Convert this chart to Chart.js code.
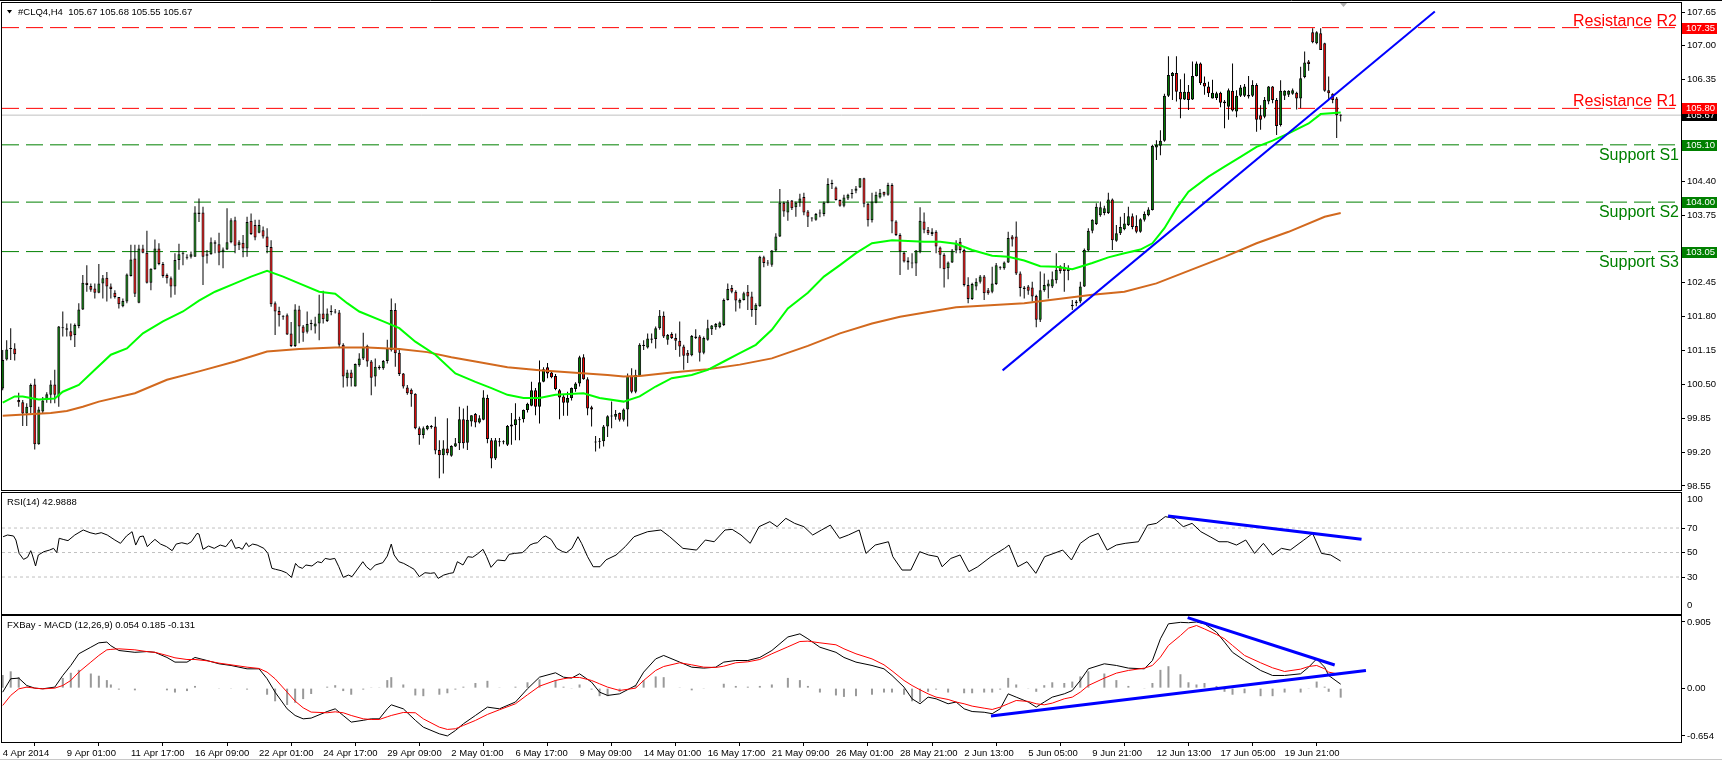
<!DOCTYPE html>
<html>
<head>
<meta charset="utf-8">
<title>#CLQ4,H4</title>
<script src="https://cdn.jsdelivr.net/npm/chart.js@4.4.1/dist/chart.umd.min.js"></script>
<style>
  body { margin: 0; background: #fff; width: 1722px; height: 764px; overflow: hidden; position: relative; }
  canvas { position: absolute; left: 0; }
  #main { top: 0; }
  #rsi { top: 491px; }
  #macd { top: 614px; }
</style>
</head>
<body>
<canvas id="main" width="1722" height="491"></canvas>
<canvas id="rsi" width="1722" height="124"></canvas>
<canvas id="macd" width="1722" height="150"></canvas>
<script>
// #CLQ4 H4 candles, one entry per bar (bar 0 = 4 Apr 2014)
const opens = [
  100.42, 100.98, 101.18, 101.19, 100.20, 100.16, 99.94, 100.06, 100.50, 99.35,
  99.98, 100.20, 100.30, 100.50, 100.27, 101.60, 101.58, 101.52, 101.45, 101.62,
  101.94, 102.45, 102.39, 102.34, 102.26, 102.44, 102.55, 102.38, 102.26, 102.18,
  102.00, 102.09, 102.58, 102.92, 102.07, 103.11, 103.03, 102.45, 102.71, 103.11,
  102.81, 102.60, 102.54, 102.38, 102.89, 103.00, 102.95, 102.95, 102.95, 103.80,
  103.80, 102.97, 103.00, 103.23, 103.19, 103.04, 103.09, 103.23, 103.65, 103.17,
  103.22, 103.11, 103.64, 103.56, 103.41, 103.46, 103.34, 103.14, 102.06, 101.91,
  101.82, 101.83, 101.48, 101.24, 101.94, 101.61, 101.51, 101.66, 101.61, 101.67,
  101.86, 101.72, 101.89, 101.90, 101.88, 101.26, 100.62, 100.73, 100.46, 100.87,
  101.00, 101.24, 100.94, 100.65, 100.84, 100.81, 100.95, 101.16, 101.93, 101.11,
  100.71, 100.44, 100.40, 100.32, 99.66, 99.53, 99.64, 99.70, 99.69, 99.24,
  99.14, 99.27, 99.13, 99.31, 99.37, 99.83, 99.38, 99.79, 99.93, 99.77,
  99.82, 100.24, 99.43, 99.08, 99.41, 99.39, 99.34, 99.69, 99.72, 99.83,
  99.83, 100.01, 100.09, 100.39, 100.07, 100.55, 100.83, 100.73, 100.66, 100.39,
  100.27, 100.15, 100.24, 100.41, 100.52, 101.02, 100.60, 100.06, 99.39, 99.40,
  99.41, 99.69, 99.89, 99.88, 99.95, 99.82, 100.02, 100.66, 100.36, 100.66,
  101.26, 101.21, 101.38, 101.37, 101.58, 101.82, 101.36, 101.47, 101.39, 101.34,
  101.23, 101.11, 101.06, 101.42, 101.42, 101.11, 101.36, 101.56, 101.60, 101.60,
  101.64, 102.12, 102.35, 102.28, 102.07, 102.12, 102.28, 102.19, 101.93, 102.00,
  102.94, 102.84, 102.80, 103.07, 103.34, 103.99, 103.80, 104.03, 103.90, 103.99,
  104.10, 103.82, 103.70, 103.66, 103.78, 103.77, 103.99, 104.35, 104.28, 104.04,
  103.93, 104.07, 104.16, 104.22, 104.28, 104.46, 103.97, 103.65, 103.99, 104.09,
  104.20, 104.14, 104.33, 103.63, 103.37, 103.03, 102.88, 102.84, 102.82, 103.05,
  103.63, 103.47, 103.39, 103.43, 103.13, 102.99, 102.73, 102.84, 103.07, 103.24,
  103.08, 102.41, 102.14, 102.38, 102.47, 102.57, 102.31, 102.28, 102.43, 102.76,
  102.73, 102.84, 103.34, 103.34, 102.63, 102.36, 102.38, 102.36, 102.20, 101.74,
  102.31, 102.38, 102.38, 102.50, 102.77, 102.76, 102.68, 102.03, 102.06, 102.09,
  102.38, 103.07, 103.45, 103.58, 103.75, 103.79, 103.79, 104.05, 103.26, 103.40,
  103.48, 103.56, 103.73, 103.54, 103.43, 103.66, 103.75, 103.85, 105.05, 105.08,
  105.18, 106.04, 106.42, 106.48, 106.12, 105.97, 106.12, 105.97, 106.42, 106.66,
  106.29, 106.22, 105.99, 106.00, 106.10, 105.93, 105.83, 106.14, 105.74, 106.04,
  106.04, 106.06, 106.04, 106.25, 105.67, 105.64, 105.93, 106.22, 105.96, 105.48,
  106.04, 106.06, 106.08, 106.10, 105.99, 106.40, 106.70, 107.26, 107.05, 107.24,
  107.05, 106.15, 106.08, 105.99, 105.67
];
const highs = [
  101.16, 101.35, 101.58, 101.29, 100.34, 100.20, 100.14, 100.52, 100.61, 100.07,
  100.26, 100.35, 100.58, 100.78, 101.62, 101.90, 101.67, 101.67, 101.67, 102.06,
  102.60, 102.79, 102.44, 102.44, 102.81, 102.60, 102.66, 102.44, 102.31, 102.18,
  102.15, 102.63, 103.18, 103.18, 103.18, 103.18, 103.45, 102.73, 103.28, 103.21,
  102.85, 102.63, 102.57, 103.02, 103.20, 103.05, 103.00, 103.05, 103.92, 104.07,
  103.91, 103.08, 103.32, 103.27, 103.41, 103.13, 103.88, 103.69, 103.72, 103.27,
  103.37, 103.72, 103.78, 103.66, 103.66, 103.53, 103.50, 103.27, 102.09, 101.99,
  101.83, 101.86, 101.70, 102.04, 102.01, 101.64, 101.90, 101.74, 101.80, 102.22,
  102.30, 101.96, 102.02, 101.95, 101.93, 101.29, 100.78, 100.78, 100.90, 101.10,
  101.49, 101.26, 100.97, 101.00, 100.87, 100.97, 101.36, 102.15, 102.06, 101.16,
  100.72, 100.49, 100.42, 100.33, 99.69, 99.69, 99.72, 99.72, 99.88, 99.43,
  99.43, 99.85, 99.33, 99.47, 100.07, 100.04, 100.09, 99.91, 99.95, 99.91,
  100.39, 100.30, 99.47, 99.47, 99.47, 99.43, 99.72, 99.95, 100.14, 99.88,
  100.02, 100.15, 100.55, 100.43, 100.96, 100.83, 100.91, 100.75, 100.70, 100.41,
  100.30, 100.36, 100.44, 100.54, 101.05, 101.08, 100.64, 100.09, 99.51, 99.47,
  99.72, 99.91, 100.17, 100.01, 99.96, 100.04, 100.71, 100.81, 100.78, 101.29,
  101.35, 101.48, 101.48, 101.61, 101.93, 101.90, 101.47, 101.50, 101.48, 101.71,
  101.26, 101.16, 101.45, 101.56, 101.45, 101.42, 101.74, 101.64, 101.68, 101.71,
  102.15, 102.44, 102.41, 102.31, 102.15, 102.28, 102.41, 102.28, 102.06, 102.97,
  102.97, 102.89, 103.08, 103.40, 104.25, 104.01, 104.04, 104.04, 104.01, 104.16,
  104.18, 103.85, 103.71, 103.79, 103.86, 104.01, 104.46, 104.43, 104.30, 104.05,
  104.14, 104.16, 104.25, 104.31, 104.46, 104.47, 103.99, 104.18, 104.20, 104.25,
  104.20, 104.37, 104.36, 103.65, 103.40, 103.05, 102.94, 103.02, 103.08, 103.90,
  103.80, 103.52, 103.50, 103.46, 103.15, 103.02, 102.86, 103.10, 103.27, 103.31,
  103.11, 102.56, 102.45, 102.54, 102.60, 102.60, 102.35, 102.76, 102.83, 102.77,
  102.86, 103.43, 103.37, 103.63, 102.67, 102.39, 102.41, 102.47, 102.22, 102.67,
  102.63, 102.51, 102.67, 103.02, 102.79, 102.83, 102.79, 102.12, 102.12, 102.47,
  103.11, 103.50, 103.67, 103.98, 104.01, 103.93, 104.18, 104.07, 103.56, 103.72,
  103.79, 103.91, 103.78, 103.75, 103.69, 103.82, 103.90, 105.10, 105.19, 105.38,
  106.08, 106.80, 106.50, 106.80, 106.36, 106.47, 106.25, 106.70, 106.70, 106.68,
  106.41, 106.31, 106.35, 106.12, 106.12, 105.96, 106.18, 106.66, 106.15, 106.25,
  106.27, 106.42, 106.34, 106.28, 105.86, 106.02, 106.23, 106.23, 106.00, 106.34,
  106.15, 106.15, 106.18, 106.12, 106.60, 106.89, 106.73, 107.34, 107.28, 107.34,
  107.06, 106.41, 106.09, 106.02, 105.68
];
const lows = [
  100.39, 100.96, 100.97, 100.96, 100.07, 99.70, 99.70, 99.94, 99.25, 99.34,
  99.95, 100.15, 100.14, 100.14, 100.07, 101.42, 101.42, 101.35, 101.22, 101.58,
  101.93, 102.28, 102.28, 102.15, 102.25, 102.15, 102.09, 102.15, 102.15, 101.96,
  101.98, 102.06, 102.57, 102.18, 102.06, 103.02, 102.44, 102.31, 102.70, 102.79,
  102.55, 102.44, 102.17, 102.22, 102.70, 102.79, 102.90, 102.92, 102.95, 103.62,
  102.41, 102.82, 102.99, 103.02, 102.79, 102.73, 103.08, 103.21, 103.02, 103.08,
  102.94, 102.95, 103.37, 103.27, 103.40, 103.30, 103.02, 101.99, 101.45, 101.61,
  101.74, 101.45, 101.22, 101.22, 101.29, 101.32, 101.48, 101.54, 101.48, 101.35,
  101.67, 101.70, 101.83, 101.86, 101.22, 100.44, 100.46, 100.46, 100.46, 100.84,
  100.97, 100.84, 100.29, 100.46, 100.78, 100.78, 100.90, 101.13, 100.84, 100.66,
  100.42, 100.30, 100.07, 99.64, 99.34, 99.46, 99.62, 99.65, 99.16, 98.70,
  98.79, 99.14, 99.11, 99.30, 99.24, 99.27, 99.24, 99.69, 99.68, 99.75,
  99.81, 99.37, 98.89, 99.05, 99.31, 99.35, 99.32, 99.34, 99.43, 99.43,
  99.77, 99.96, 100.08, 99.91, 99.75, 100.54, 100.62, 100.62, 100.39, 99.83,
  99.90, 99.90, 100.19, 100.36, 100.46, 100.59, 99.91, 99.69, 99.21, 99.27,
  99.31, 99.49, 99.66, 99.82, 99.79, 99.79, 99.69, 100.33, 100.33, 100.65,
  101.16, 101.19, 101.29, 101.19, 101.55, 101.39, 101.26, 101.37, 101.16, 101.03,
  100.78, 100.91, 101.04, 101.37, 100.94, 101.08, 101.34, 101.45, 101.55, 101.58,
  101.62, 102.11, 102.25, 101.90, 101.96, 102.11, 101.93, 101.80, 101.64, 101.99,
  102.75, 102.78, 102.76, 103.05, 103.33, 103.72, 103.64, 103.85, 103.72, 103.91,
  103.75, 103.52, 103.63, 103.64, 103.71, 103.73, 103.98, 104.25, 104.03, 103.91,
  103.90, 104.04, 104.07, 104.17, 104.27, 103.90, 103.53, 103.61, 103.98, 104.07,
  104.11, 104.12, 103.40, 103.35, 102.60, 102.84, 102.70, 102.73, 102.58, 103.02,
  103.40, 103.37, 103.35, 103.02, 102.73, 102.36, 102.52, 102.83, 103.02, 103.02,
  102.38, 102.06, 102.12, 102.31, 102.44, 102.12, 102.22, 102.25, 102.41, 102.70,
  102.70, 102.83, 103.15, 102.60, 102.19, 102.15, 102.22, 102.09, 101.60, 101.70,
  102.28, 102.15, 102.35, 102.44, 102.63, 102.28, 102.50, 101.93, 102.00, 102.06,
  102.37, 103.05, 103.40, 103.56, 103.72, 103.75, 103.77, 103.08, 103.24, 103.37,
  103.46, 103.54, 103.48, 103.40, 103.41, 103.63, 103.73, 103.84, 104.81, 104.90,
  105.16, 106.02, 105.96, 105.93, 105.61, 105.96, 105.77, 105.96, 106.41, 106.25,
  106.06, 106.02, 105.99, 105.96, 105.82, 105.42, 105.58, 105.74, 105.63, 106.02,
  106.02, 105.99, 106.02, 105.35, 105.39, 105.61, 105.88, 105.90, 105.29, 105.45,
  105.96, 106.02, 106.06, 105.78, 105.80, 106.38, 106.52, 107.05, 107.03, 106.92,
  106.12, 105.96, 105.90, 105.23, 105.55
];
const closes = [
  100.97, 101.17, 101.20, 101.08, 100.16, 99.94, 100.07, 100.49, 99.35, 100.02,
  100.19, 100.31, 100.50, 100.30, 101.61, 101.58, 101.55, 101.42, 101.64, 101.94,
  102.45, 102.41, 102.32, 102.26, 102.44, 102.54, 102.38, 102.33, 102.18, 102.04,
  102.10, 102.61, 102.90, 102.24, 103.11, 103.03, 102.45, 102.72, 103.11, 102.81,
  102.58, 102.54, 102.38, 102.89, 103.00, 103.02, 102.93, 103.00, 103.80, 103.77,
  102.95, 103.00, 103.23, 103.20, 103.03, 103.09, 103.23, 103.65, 103.16, 103.23,
  103.11, 103.62, 103.39, 103.32, 103.56, 103.34, 103.14, 102.04, 101.90, 101.83,
  101.80, 101.46, 101.24, 101.94, 101.61, 101.49, 101.66, 101.68, 101.67, 101.86,
  101.75, 101.86, 101.91, 101.88, 101.26, 100.65, 100.73, 100.62, 100.89, 101.00,
  101.22, 100.94, 100.63, 100.84, 100.81, 100.95, 101.19, 101.93, 101.10, 100.70,
  100.46, 100.33, 100.31, 99.66, 99.53, 99.66, 99.70, 99.68, 99.23, 99.14,
  99.27, 99.18, 99.32, 99.37, 99.83, 99.37, 99.82, 99.91, 99.77, 99.85,
  100.25, 99.45, 99.08, 99.43, 99.39, 99.41, 99.70, 99.73, 99.83, 99.81,
  100.01, 100.13, 100.39, 100.07, 100.54, 100.79, 100.71, 100.64, 100.41, 100.25,
  100.15, 100.24, 100.43, 100.52, 101.02, 100.60, 100.04, 100.02, 99.40, 99.42,
  99.69, 99.89, 99.90, 99.93, 99.82, 100.02, 100.66, 100.36, 100.68, 101.26,
  101.24, 101.38, 101.36, 101.58, 101.82, 101.42, 101.45, 101.39, 101.34, 101.23,
  101.05, 101.05, 101.43, 101.39, 101.11, 101.39, 101.58, 101.63, 101.66, 101.69,
  102.12, 102.33, 102.28, 102.11, 102.12, 102.25, 102.19, 101.93, 102.03, 102.95,
  102.83, 102.82, 103.07, 103.34, 103.99, 103.82, 104.01, 103.88, 103.99, 104.07,
  103.80, 103.72, 103.69, 103.77, 103.80, 103.99, 104.35, 104.36, 104.04, 103.93,
  104.09, 104.14, 104.17, 104.26, 104.46, 103.97, 103.65, 104.01, 104.14, 104.18,
  104.14, 104.33, 103.63, 103.37, 103.05, 102.86, 102.84, 102.82, 103.07, 103.64,
  103.47, 103.40, 103.43, 103.15, 102.99, 102.71, 102.84, 103.07, 103.22, 103.08,
  102.41, 102.14, 102.43, 102.47, 102.57, 102.25, 102.25, 102.44, 102.79, 102.74,
  102.84, 103.31, 103.28, 102.63, 102.35, 102.33, 102.30, 102.19, 101.74, 102.31,
  102.41, 102.44, 102.52, 102.70, 102.68, 102.68, 102.73, 102.00, 102.09, 102.38,
  103.08, 103.45, 103.66, 103.91, 103.90, 103.88, 104.05, 103.27, 103.40, 103.52,
  103.59, 103.73, 103.52, 103.43, 103.67, 103.77, 103.86, 105.08, 105.10, 105.18,
  106.04, 106.44, 106.48, 106.12, 105.97, 106.12, 105.96, 106.42, 106.66, 106.28,
  106.22, 106.09, 106.10, 106.09, 105.91, 105.90, 106.15, 105.76, 106.04, 106.20,
  106.22, 106.03, 106.25, 105.58, 105.58, 105.96, 106.22, 105.96, 105.46, 106.14,
  106.14, 106.14, 106.15, 105.99, 106.38, 106.68, 106.65, 107.07, 107.26, 106.92,
  106.14, 106.09, 105.96, 105.67, 105.67
];

// moving averages (green fast, orange slow), read at these bars
const fastMaX = [0, 3, 5, 9, 13, 15, 19, 23, 27, 31, 35, 40, 45, 49, 53, 58, 62, 66, 70, 74,
  79, 83, 86, 89, 95, 99, 103, 108, 113, 118, 122, 126, 130, 134, 138, 145, 149, 155, 159, 163,
  167, 172, 176, 180, 184, 188, 192, 196, 201, 205, 209, 213, 217, 222, 230, 234, 238, 242, 247, 251,
  255, 259, 263, 267, 272, 276, 280, 284, 287, 290, 293, 296, 301, 305, 309, 313, 317, 321, 326, 329, 334];
const fastMaY = [100.15, 100.27, 100.27, 100.21, 100.23, 100.36, 100.49, 100.78, 101.07, 101.19,
  101.48, 101.71, 101.90, 102.11, 102.28, 102.44, 102.57, 102.68, 102.57, 102.44,
  102.28, 102.24, 102.06, 101.90, 101.71, 101.58, 101.32, 101.07, 100.71, 100.55,
  100.43, 100.30, 100.24, 100.24, 100.30, 100.33, 100.24, 100.17, 100.27, 100.46,
  100.62, 100.68, 100.78, 100.94, 101.10, 101.26, 101.55, 101.96, 102.26, 102.57,
  102.79, 103.02, 103.21, 103.27, 103.24, 103.24, 103.20, 103.08, 102.97, 102.95,
  102.88, 102.77, 102.76, 102.71, 102.83, 102.94, 103.02, 103.09, 103.21, 103.50,
  103.88, 104.20, 104.49, 104.68, 104.87, 105.06, 105.18, 105.32, 105.51, 105.69, 105.72];
const slowMaX = [0, 12, 16, 20, 24, 33, 41, 49, 58, 66, 74, 83, 91, 99, 106, 112, 118, 126, 134, 142,
  151, 155, 159, 167, 176, 184, 192, 201, 209, 217, 224, 238, 255, 272, 280, 288, 296, 305, 313, 321, 330, 334];
const slowMaY = [99.90, 99.95, 99.99, 100.07, 100.17, 100.33, 100.59, 100.75, 100.94, 101.13,
  101.18, 101.21, 101.21, 101.18, 101.12, 101.02, 100.94, 100.83, 100.77, 100.73,
  100.68, 100.65, 100.66, 100.73, 100.79, 100.88, 101.00, 101.24, 101.48, 101.67,
  101.80, 101.98, 102.06, 102.22, 102.28, 102.44, 102.68, 102.95, 103.21, 103.43, 103.72, 103.79];

// support / resistance levels
const levelNames = ['Resistance R2', 'Resistance R1', 'Support S1', 'Support S2', 'Support S3'];
const levelValues = [107.35, 105.80, 105.10, 104.00, 103.05];
const lastPrice = 105.67;

// hand-drawn trend lines (bar, value)
const trendX = [249.6, 357.5];
const trendY = [100.77, 107.66];
const rsiTrendX = [290.9, 339.2];
const rsiTrendY = [79.8, 60.8];
const macdTopX = [295.8, 332.5];
const macdTopY = [0.964, 0.317];
const macdLowX = [246.7, 340.3];
const macdLowY = [-0.380, 0.240];

// RSI(14)
const rsiX = [0.1, 1.2, 2.7, 3.3, 4.1, 5.2, 6.2, 7.0, 7.4, 8.2,
  8.9, 10.3, 11.7, 12.7, 13.5, 14.1, 15.1, 16.3, 18.0, 20.1,
  21.8, 23.2, 24.6, 26.1, 28.0, 29.4, 30.9, 32.3, 33.2, 34.2,
  35.1, 36.1, 36.9, 38.0, 39.4, 40.9, 42.3, 43.3, 44.7, 46.1,
  47.1, 48.5, 49.0, 50.0, 51.4, 52.8, 54.3, 55.7, 57.1, 58.1,
  59.0, 59.8, 60.8, 61.4, 62.4, 63.5, 65.2, 66.2, 67.2, 68.1,
  69.5, 70.8, 72.1, 73.1, 73.8, 74.8, 75.7, 77.2, 78.6, 79.6,
  80.5, 81.7, 82.9, 83.9, 85.0, 86.3, 87.2, 88.4, 89.9, 90.8,
  91.8, 93.0, 94.9, 96.0, 97.0, 97.7, 98.9, 100.1, 101.6, 102.7,
  104.0, 105.4, 106.8, 107.8, 108.7, 110.1, 111.6, 112.5, 113.5, 114.9,
  116.1, 117.3, 118.5, 119.9, 120.8, 121.9, 123.5, 125.4, 126.4, 127.8,
  129.7, 130.7, 131.6, 132.6, 133.5, 134.8, 135.5, 136.9, 138.3, 139.8,
  140.7, 142.1, 143.6, 144.5, 146.0, 147.4, 149.1, 150.6, 153.1, 155.4,
  157.6, 161.0, 164.3, 166.5, 169.8, 173.2, 175.4, 177.6, 180.3, 182.1,
  184.3, 186.6, 188.8, 191.5, 193.3, 195.5, 197.7, 200.0, 202.2, 204.4,
  206.6, 208.9, 211.1, 213.8, 215.5, 217.8, 221.1, 222.2, 224.5, 226.7,
  228.9, 231.1, 233.4, 234.5, 236.7, 239.0, 241.2, 243.4, 246.7, 250.1,
  251.2, 253.4, 255.7, 257.9, 260.1, 262.4, 264.6, 266.8, 269.0, 271.3,
  273.5, 275.7, 278.0, 280.2, 283.5, 285.8, 288.0, 290.2, 292.4, 294.7,
  296.9, 299.1, 301.4, 303.6, 305.8, 308.0, 310.3, 312.5, 314.7, 317.0,
  319.2, 321.4, 324.8, 327.0, 329.2, 331.5, 334.0];
const rsiY = [62.9, 64.3, 63.5, 60.2, 49.3, 44.4, 46.1, 51.5, 48.0, 39.0,
  48.0, 50.7, 52.0, 53.4, 49.9, 61.6, 60.7, 59.7, 64.3, 68.4,
  66.2, 65.1, 66.2, 64.3, 60.2, 57.5, 63.5, 67.0, 56.1, 62.9,
  63.5, 54.8, 57.5, 60.7, 56.9, 54.8, 51.5, 56.9, 58.0, 56.9,
  58.8, 65.6, 65.1, 52.6, 55.3, 53.4, 56.1, 54.8, 60.7, 53.4,
  54.2, 52.6, 58.0, 54.8, 56.9, 56.1, 53.4, 49.3, 37.1, 36.3,
  35.2, 33.5, 29.7, 41.1, 38.4, 37.1, 39.8, 39.0, 42.5, 41.7,
  45.2, 44.4, 45.2, 38.4, 29.7, 31.6, 30.3, 35.7, 42.5, 38.4,
  35.7, 39.8, 41.7, 47.1, 56.9, 48.0, 42.5, 41.1, 38.4, 36.3,
  30.3, 33.5, 33.0, 33.5, 28.9, 31.6, 33.0, 33.5, 42.5, 39.8,
  46.6, 46.1, 48.8, 52.6, 46.6, 37.9, 43.9, 43.3, 48.5, 49.3,
  49.9, 52.6, 56.1, 57.5, 58.0, 62.4, 63.5, 60.7, 53.4, 50.7,
  49.9, 53.4, 62.9, 57.5, 46.6, 38.4, 38.4, 44.0, 47.9, 54.8,
  62.9, 67.0, 68.4, 62.9, 53.4, 52.0, 60.2, 58.8, 68.4, 68.9,
  64.3, 57.5, 71.1, 75.2, 71.1, 77.9, 73.8, 71.1, 64.3, 68.4,
  72.4, 61.6, 64.3, 68.4, 49.3, 56.1, 58.8, 46.6, 35.7, 35.7,
  50.7, 48.0, 46.6, 38.4, 45.2, 48.0, 34.4, 38.4, 46.6, 53.4,
  56.1, 38.4, 42.5, 33.0, 46.6, 49.3, 52.0, 43.9, 57.5, 62.9,
  65.6, 52.0, 56.1, 57.5, 58.8, 72.4, 73.8, 79.3, 77.9, 71.1,
  73.8, 67.0, 62.9, 58.8, 58.8, 56.1, 60.2, 49.3, 57.5, 48.0,
  53.4, 52.0, 60.2, 65.6, 49.3, 48.0, 43.0];
const rsiLevels = [70, 50, 30];

// FXBay MACD (12,26,9): main, signal, histogram read at these bars
const macdX = [0, 2, 4, 6, 8, 10, 13, 15, 17, 19,
  22, 24, 26, 27, 29, 33, 36, 38, 41, 43,
  46, 48, 51, 54, 57, 61, 64, 66, 68, 71,
  73, 75, 77, 81, 83, 85, 87, 90, 92, 94,
  96, 97, 100, 103, 105, 109, 111, 113, 115, 118,
  121, 124, 128, 131, 134, 138, 140, 142, 144, 147,
  149, 151, 154, 158, 160, 163, 165, 169, 172, 175,
  178, 180, 183, 186, 189, 192, 196, 199, 201, 204,
  208, 210, 213, 217, 220, 222, 225, 227, 229, 231,
  233, 236, 238, 240, 242, 245, 247, 249, 251, 253,
  256, 258, 260, 262, 265, 267, 269, 271, 275, 278,
  281, 285, 287, 289, 291, 294, 296, 298, 300, 303,
  305, 307, 310, 314, 317, 320, 324, 326, 328, 330,
  331, 334];
const macdY = [-0.055, 0.128, 0.137, 0.036, 0.000, -0.009, 0.014, 0.173, 0.310, 0.470,
  0.560, 0.620, 0.630, 0.580, 0.515, 0.490, 0.500, 0.490, 0.420, 0.356,
  0.356, 0.420, 0.378, 0.333, 0.310, 0.264, 0.264, 0.128, -0.055, -0.283,
  -0.374, -0.420, -0.410, -0.320, -0.283, -0.374, -0.465, -0.440, -0.420, -0.420,
  -0.283, -0.228, -0.283, -0.440, -0.534, -0.625, -0.654, -0.580, -0.488, -0.374,
  -0.260, -0.283, -0.190, -0.009, 0.150, 0.210, 0.150, 0.137, 0.196, 0.082,
  -0.055, -0.100, -0.078, 0.036, 0.219, 0.400, 0.447, 0.356, 0.287, 0.274,
  0.287, 0.356, 0.378, 0.378, 0.420, 0.515, 0.700, 0.743, 0.675, 0.560,
  0.490, 0.420, 0.356, 0.310, 0.264, 0.173, 0.014, -0.146, -0.214, -0.123,
  -0.146, -0.214, -0.190, -0.283, -0.320, -0.330, -0.350, -0.283, -0.078, -0.123,
  -0.190, -0.260, -0.190, -0.123, -0.078, -0.032, 0.105, 0.264, 0.333, 0.310,
  0.274, 0.264, 0.378, 0.675, 0.880, 0.900, 0.895, 0.905, 0.880, 0.766,
  0.630, 0.490, 0.378, 0.242, 0.173, 0.173, 0.196, 0.287, 0.400, 0.287,
  0.173, 0.054];
const signalY = [-0.237, -0.100, -0.010, 0.014, 0.000, -0.010, 0.000, 0.036, 0.105, 0.219,
  0.356, 0.447, 0.524, 0.530, 0.538, 0.524, 0.500, 0.490, 0.447, 0.415,
  0.392, 0.392, 0.374, 0.342, 0.319, 0.287, 0.269, 0.219, 0.128, -0.055,
  -0.178, -0.269, -0.328, -0.337, -0.324, -0.337, -0.374, -0.420, -0.429, -0.429,
  -0.392, -0.374, -0.333, -0.337, -0.420, -0.534, -0.565, -0.556, -0.510, -0.442,
  -0.360, -0.296, -0.214, -0.091, 0.027, 0.105, 0.128, 0.146, 0.146, 0.105,
  0.059, 0.014, -0.032, 0.000, 0.105, 0.242, 0.296, 0.347, 0.319, 0.287,
  0.283, 0.300, 0.347, 0.360, 0.392, 0.470, 0.565, 0.638, 0.643, 0.620,
  0.593, 0.538, 0.470, 0.400, 0.319, 0.237, 0.105, 0.036, -0.023, -0.078,
  -0.123, -0.155, -0.190, -0.214, -0.246, -0.274, -0.292, -0.260, -0.214, -0.169,
  -0.182, -0.214, -0.228, -0.205, -0.146, -0.123, -0.055, 0.036, 0.137, 0.205,
  0.242, 0.274, 0.310, 0.424, 0.584, 0.720, 0.820, 0.857, 0.810, 0.734,
  0.675, 0.584, 0.447, 0.347, 0.278, 0.228, 0.260, 0.296, 0.310, 0.264,
  0.219, 0.185];
const histY = [0.18, 0.23, 0.15, 0.02, 0.00, 0.00, 0.01, 0.14, 0.21, 0.25,
  0.20, 0.17, 0.11, 0.05, -0.02, -0.03, 0.00, 0.00, -0.03, -0.06,
  -0.04, 0.03, 0.00, -0.01, -0.01, -0.02, 0.00, -0.09, -0.18, -0.23,
  -0.20, -0.15, -0.08, 0.02, 0.04, -0.04, -0.09, -0.02, 0.01, 0.01,
  0.11, 0.15, 0.05, -0.10, -0.11, -0.09, -0.07, -0.02, 0.02, 0.07,
  0.10, 0.01, 0.02, 0.08, 0.12, 0.11, 0.02, -0.01, 0.05, -0.02,
  -0.11, -0.11, -0.05, 0.04, 0.11, 0.16, 0.15, 0.01, -0.03, -0.01,
  0.00, 0.06, 0.03, 0.02, 0.03, 0.05, 0.14, 0.11, 0.03, -0.06,
  -0.10, -0.12, -0.11, -0.09, -0.06, -0.06, -0.09, -0.18, -0.19, -0.05,
  -0.02, -0.06, 0.00, -0.07, -0.07, -0.06, -0.06, -0.02, 0.14, 0.05,
  -0.01, -0.05, 0.04, 0.08, 0.07, 0.09, 0.16, 0.23, 0.20, 0.11,
  0.03, -0.01, 0.07, 0.25, 0.30, 0.19, 0.08, 0.05, 0.07, 0.03,
  -0.05, -0.09, -0.07, -0.11, -0.11, -0.06, -0.06, -0.01, 0.09, 0.02,
  -0.05, -0.13];

// axis labels
const priceTicks = [107.65, 107.00, 106.35, 104.40, 103.75, 102.45, 101.80, 101.15, 100.50, 99.85, 99.20, 98.55];
const rsiTicks = [70, 50, 30];
const macdTicks = [0.905, 0, -0.654];
const dateTicks = [0, 16, 32, 48, 64, 80, 96, 112, 128, 144, 160, 176, 192, 208, 224, 240, 256, 272, 288, 304, 320];
const dateLabels = ['4 Apr 2014', '9 Apr 01:00', '11 Apr 17:00', '16 Apr 09:00', '22 Apr 01:00', '24 Apr 17:00',
  '29 Apr 09:00', '2 May 01:00', '6 May 17:00', '9 May 09:00', '14 May 01:00', '16 May 17:00', '21 May 09:00',
  '26 May 01:00', '28 May 21:00', '2 Jun 13:00', '5 Jun 05:00', '9 Jun 21:00', '12 Jun 13:00', '17 Jun 05:00', '19 Jun 21:00'];

// ---------------------------------------------------------------
const X_MIN = -0.175, X_MAX = 418.95;
const FONT = '"Liberation Sans", Arial, sans-serif';
const AX_W = 41;
const UP = '#008000', DOWN = '#ff0000';

function pts(xs, ys) {
    const n = Math.min(xs.length, ys.length);
    const out = [];
    for (let k = 0; k < n; k++) out.push({ x: xs[k], y: ys[k] });
    return out;
}
function flat(v) { return [{ x: X_MIN, y: v }, { x: X_MAX, y: v }]; }
function lineDs(data, color, width, extra) {
    return Object.assign({ type: 'line', data: data, borderColor: color, borderWidth: width,
        pointRadius: 0, fill: false, tension: 0 }, extra || {});
}

// scales must not steal room for overhanging tick labels
function noPad(s) { s.paddingTop = 0; s.paddingBottom = 0; s.paddingLeft = 0; s.paddingRight = 0; }

function hiddenX() {
    return { type: 'linear', min: X_MIN, max: X_MAX, offset: false, display: false };
}
function rightY(min, max, ticks, fmt) {
    return {
        type: 'linear', position: 'right', min: min, max: max,
        afterFit: s => { s.width = AX_W; noPad(s); },
        afterBuildTicks: s => { s.ticks = ticks.map(v => ({ value: v })); },
        ticks: { callback: fmt, font: { family: FONT, size: 9.5 }, color: '#000', padding: 2, autoSkip: false },
        grid: { drawOnChartArea: false, tickLength: 4, color: '#000' },
        border: { display: false }
    };
}
const baseOpts = {
    responsive: false, animation: false, events: [],
    plugins: { legend: { display: false }, tooltip: { enabled: false } }
};

function frame(chart) {
    const { ctx, chartArea: a } = chart;
    ctx.save();
    ctx.strokeStyle = '#000';
    ctx.lineWidth = 1;
    ctx.strokeRect(a.left - 0.5, a.top - 0.5, a.right - a.left + 1, a.bottom - a.top + 1);
    ctx.restore();
}
function text(ctx, s, x, y, color, size, align, baseline) {
    ctx.font = size + 'px ' + FONT;
    ctx.fillStyle = color;
    ctx.textAlign = align || 'left';
    ctx.textBaseline = baseline || 'middle';
    ctx.fillText(s, x, y);
}

// candles: wick + body as floating bars
const bars = closes.map((c, i) => i);
const wickData = bars.map(i => ({ x: i, y: [lows[i], highs[i]] }));
const bodyData = bars.map(i => {
    let a = opens[i], b = closes[i];
    if (Math.abs(a - b) < 0.02) { const m = (a + b) / 2; a = m - 0.01; b = m + 0.01; }
    return { x: i, y: [a, b] };
});
const bodyColors = bars.map(i => closes[i] >= opens[i] ? UP : DOWN);

const mainExtras = {
    id: 'mainExtras',
    afterDraw(chart) {
        const { ctx, chartArea: a, scales: { y } } = chart;
        frame(chart);
        ctx.save();
        ctx.strokeStyle = '#000';
        ctx.beginPath(); ctx.moveTo(0, 0.5); ctx.lineTo(1722, 0.5); ctx.stroke();

        // header
        ctx.fillStyle = '#000';
        ctx.beginPath(); ctx.moveTo(7, 10); ctx.lineTo(12, 10); ctx.lineTo(9.5, 13.5); ctx.closePath(); ctx.fill();
        text(ctx, '#CLQ4,H4  105.67 105.68 105.55 105.67', 18, 12.5, '#000', 9.5);

        // shift marker
        ctx.fillStyle = '#b0b0b0';
        ctx.beginPath(); ctx.moveTo(1340, 3); ctx.lineTo(1347, 3); ctx.lineTo(1343.5, 7); ctx.closePath(); ctx.fill();

        // level names
        levelValues.forEach((v, k) => {
            const py = y.getPixelForValue(v);
            const res = levelNames[k].startsWith('Res');
            if (res) text(ctx, levelNames[k], 1677, py - 2, DOWN, 16, 'right', 'alphabetic');
            else text(ctx, levelNames[k], 1679, py + 15, UP, 16, 'right', 'alphabetic');
        });

        // price boxes on the axis
        const box = (v, bg) => {
            const py = Math.round(y.getPixelForValue(v));
            ctx.fillStyle = bg;
            ctx.fillRect(a.right + 1, py - 5, 35, 11);
            text(ctx, v.toFixed(2), a.right + 5, py + 0.5, '#fff', 9.5);
        };
        box(lastPrice, '#000');
        levelValues.forEach((v, k) => box(v, levelNames[k].startsWith('Res') ? DOWN : UP));
        ctx.restore();
    }
};

new Chart(document.getElementById('main'), {
    type: 'bar',
    data: {
        datasets: [
            ...levelValues.map((v, k) => lineDs(flat(v), levelNames[k].startsWith('Res') ? DOWN : UP, 1,
                { borderDash: [17, 7], order: 9 })),
            lineDs(flat(lastPrice), '#c0c0c0', 1, { order: 9 }),
            { type: 'bar', data: wickData, backgroundColor: '#000', borderWidth: 0, barThickness: 1,
              grouped: false, inflateAmount: 0, order: 8 },
            { type: 'bar', data: bodyData, backgroundColor: bodyColors, borderColor: '#000', borderWidth: 1,
              borderSkipped: false, barThickness: 3, grouped: false, inflateAmount: 0, order: 7 },
            lineDs(pts(slowMaX, slowMaY), '#d2691e', 2, { order: 6 }),
            lineDs(pts(fastMaX, fastMaY), '#00ff00', 2, { order: 5 }),
            lineDs(pts(trendX, trendY), '#0000ff', 2, { order: 4 })
        ]
    },
    options: Object.assign({}, baseOpts, {
        layout: { padding: { top: 3, left: 2, right: 0, bottom: 1 } },
        scales: {
            x: hiddenX(),
            y: rightY(98.473, 107.823, priceTicks, v => v.toFixed(2))
        }
    }),
    plugins: [mainExtras]
});

// RSI panel
const rsiExtras = {
    id: 'rsiExtras',
    afterDraw(chart) {
        const { ctx, chartArea: a, scales: { y } } = chart;
        frame(chart);
        ctx.save();
        text(ctx, 'RSI(14) 42.9888', 7, 11, '#000', 9.5);
        text(ctx, '100', a.right + 6, y.getPixelForValue(100) + 8, '#000', 9.5);
        text(ctx, '0', a.right + 6, y.getPixelForValue(0) - 8, '#000', 9.5);
        ctx.restore();
    }
};
new Chart(document.getElementById('rsi'), {
    type: 'line',
    data: {
        datasets: [
            ...rsiLevels.map(v => lineDs(flat(v), '#c0c0c0', 1, { borderDash: [3, 3], order: 3 })),
            lineDs(pts(rsiX, rsiY), '#000', 1, { order: 2 }),
            lineDs(pts(rsiTrendX, rsiTrendY), '#0000ff', 3, { order: 1 })
        ]
    },
    options: Object.assign({}, baseOpts, {
        layout: { padding: { top: 2, left: 2, right: 0, bottom: 1 } },
        scales: {
            x: hiddenX(),
            y: rightY(-0.2, 98.6, rsiTicks, v => String(v))
        }
    }),
    plugins: [rsiExtras]
});

// MACD panel + time axis
const macdExtras = {
    id: 'macdExtras',
    afterDraw(chart) {
        const { ctx } = chart;
        frame(chart);
        ctx.save();
        text(ctx, 'FXBay - MACD (12,26,9) 0.054 0.185 -0.131', 7, 11, '#000', 9.5);
        ctx.strokeStyle = '#c8c8c8';
        ctx.beginPath(); ctx.moveTo(0, 145.5); ctx.lineTo(1722, 145.5); ctx.stroke();
        ctx.restore();
    }
};
new Chart(document.getElementById('macd'), {
    type: 'bar',
    data: {
        datasets: [
            { type: 'bar', data: pts(macdX, histY), backgroundColor: '#999999', borderWidth: 0,
              barThickness: 2, grouped: false, inflateAmount: 0, order: 5 },
            lineDs(pts(macdX, macdY), '#000', 1, { order: 4 }),
            lineDs(pts(macdX, signalY), '#ff0000', 1, { order: 3 }),
            lineDs(pts(macdTopX, macdTopY), '#0000ff', 3, { order: 2 }),
            lineDs(pts(macdLowX, macdLowY), '#0000ff', 3, { order: 1 })
        ]
    },
    options: Object.assign({}, baseOpts, {
        layout: { padding: { top: 2, left: 2, right: 0, bottom: 0 } },
        scales: {
            x: {
                type: 'linear', min: X_MIN, max: X_MAX, offset: false, position: 'bottom',
                afterFit: s => { s.height = 22; noPad(s); },
                afterBuildTicks: s => { s.ticks = dateTicks.map(v => ({ value: v })); },
                ticks: {
                    callback: v => dateLabels[dateTicks.indexOf(v)] || '',
                    align: 'start', maxRotation: 0, autoSkip: false, padding: 2,
                    font: { family: FONT, size: 9.5 }, color: '#000'
                },
                grid: { drawOnChartArea: false, tickLength: 4, color: '#000' },
                border: { display: false }
            },
            y: rightY(-0.737, 0.987, macdTicks, v => v === 0 ? '0.00' : v.toFixed(3))
        }
    }),
    plugins: [macdExtras]
});
</script>
</body>
</html>
